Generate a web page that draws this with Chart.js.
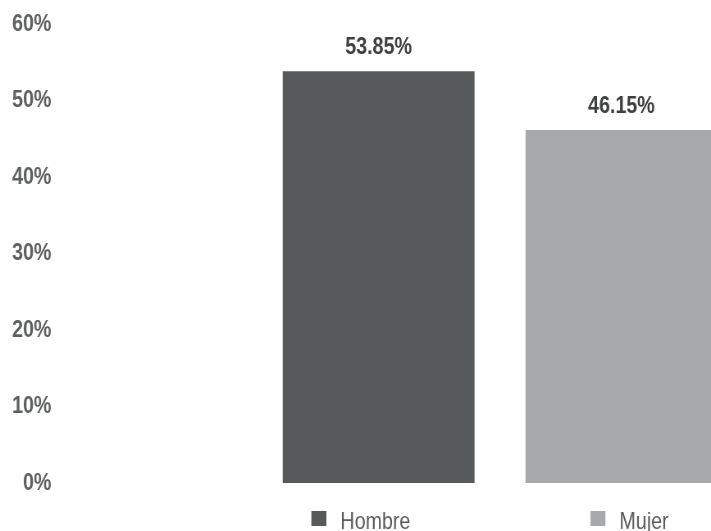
<!DOCTYPE html>
<html>
<head>
<meta charset="utf-8">
<title>Hombre / Mujer</title>
<script src="https://cdn.jsdelivr.net/npm/chart.js@4.4.1/dist/chart.umd.min.js"></script>
<style>
  html, body { margin: 0; padding: 0; background: #fff; overflow: hidden; }
  #wrap { width: 711px; height: 531px; overflow: hidden; }
</style>
</head>
<body>
<!-- el lienzo se estrecha al 82% para imitar una fuente "narrow" -->
<div id="wrap"><canvas id="chart" width="1195" height="531" style="display:block;width:980px;height:531px"></canvas></div>
<script>
// datos del gráfico
const categories = ['Total'];
const seriesNames = ['Hombre', 'Mujer'];
const hombreValues = [53.85];
const mujerValues = [46.15];
const yTicks = [0, 10, 20, 30, 40, 50, 60];

const FONT = "'Liberation Sans', Arial, sans-serif";
const COLORS = ['#575a5b', '#a7a9aa'];
const SX = 1 / 0.82; // unidades horizontales del lienzo por píxel en pantalla

// etiquetas de valor encima de cada barra
const valueLabels = {
  id: 'valueLabels',
  afterDatasetsDraw(chart) {
    const ctx = chart.ctx;
    ctx.save();
    ctx.font = 'bold 24px ' + FONT;
    ctx.fillStyle = '#3e3f40';
    ctx.textAlign = 'center';
    ctx.textBaseline = 'alphabetic';
    chart.data.datasets.forEach((ds, i) => {
      chart.getDatasetMeta(i).data.forEach((bar, j) => {
        ctx.fillText(ds.data[j].toFixed(2) + '%', bar.x, bar.y - 17);
      });
    });
    ctx.restore();
  }
};

// leyenda inferior dibujada a mano
const bottomLegend = {
  id: 'bottomLegend',
  afterDraw(chart) {
    const ctx = chart.ctx;
    const area = chart.chartArea;
    const box = 15, gapText = 14 * SX, gapItem = 180 * SX;
    ctx.save();
    ctx.font = '24px ' + FONT;
    const items = chart.data.datasets.map(ds => ({
      text: ds.label,
      color: ds.backgroundColor,
      w: box * SX + gapText + ctx.measureText(ds.label).width
    }));
    const total = items.reduce((s, it) => s + it.w, 0) + gapItem * (items.length - 1);
    let x = chart.width / 2 - total / 2;
    items.forEach(it => {
      ctx.fillStyle = it.color;
      ctx.fillRect(x, area.bottom + 28, box * SX, box);
      ctx.fillStyle = '#5b5c5d';
      ctx.textBaseline = 'alphabetic';
      ctx.fillText(it.text, x + box * SX + gapText, area.bottom + 46);
      x += it.w + gapItem;
    });
    ctx.restore();
  }
};

new Chart(document.getElementById('chart'), {
  type: 'bar',
  data: {
    labels: categories,
    datasets: [
      { label: seriesNames[0], data: hombreValues, backgroundColor: COLORS[0] },
      { label: seriesNames[1], data: mujerValues, backgroundColor: COLORS[1] }
    ]
  },
  options: {
    responsive: false,
    animation: false,
    devicePixelRatio: 1,
    categoryPercentage: 0.551,
    barPercentage: 0.79,
    layout: { padding: { top: 23, bottom: 48, left: 4 * SX, right: 48 } },
    plugins: {
      legend: { display: false },
      tooltip: { enabled: false }
    },
    scales: {
      x: { display: false },
      y: {
        min: yTicks[0],
        max: yTicks[yTicks.length - 1],
        afterBuildTicks(scale) {
          scale.ticks = yTicks.map(v => ({ value: v }));
        },
        grid: { display: false, drawTicks: false },
        border: { display: false },
        ticks: {
          padding: 8 * SX,
          color: '#5f6062',
          font: { family: FONT, size: 24, weight: 'bold' },
          callback: v => v + '%'
        }
      }
    }
  },
  plugins: [valueLabels, bottomLegend]
});
</script>
</body>
</html>
